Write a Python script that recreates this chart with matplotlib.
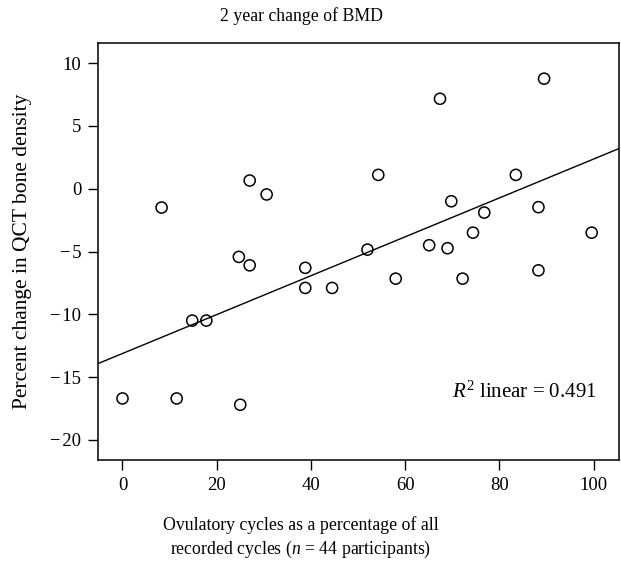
import numpy as np
import matplotlib
matplotlib.use('Agg')
import matplotlib.pyplot as plt
import matplotlib.ticker as mticker

# data (x: % ovulatory cycles, y: % change in QCT BMD)
ovulatory_pct = [0.0, 8.3, 11.5, 14.8, 17.8, 24.7, 25.0, 27.0, 27.0, 30.6,
                 38.8, 38.8, 44.5, 52.0, 54.3, 58.0, 65.1, 67.4, 69.0, 69.8,
                 72.2, 74.4, 76.8, 83.5, 88.3, 88.3, 89.5, 99.6]
bmd_change = [-16.7, -1.5, -16.7, -10.5, -10.5, -5.43, -17.2, 0.65, -6.1, -0.46,
              -6.3, -7.9, -7.9, -4.85, 1.1, -7.16, -4.5, 7.16, -4.74, -1.0,
              -7.16, -3.5, -1.9, 1.1, -1.47, -6.5, 8.76, -3.5]

# fitted line shown in the figure
fit_intercept = -13.12
fit_slope = 0.1548
r2_text = r'$R^2$ linear = 0.491'

xticks = [0, 20, 40, 60, 80, 100]
yticks = [10, 5, 0, -5, -10, -15, -20]

plt.rcParams['font.family'] = ['Liberation Serif', 'DejaVu Serif']
plt.rcParams['mathtext.fontset'] = 'custom'
plt.rcParams['mathtext.it'] = 'Liberation Serif:italic'
plt.rcParams['mathtext.rm'] = 'Liberation Serif'

fig = plt.figure(figsize=(6.21, 5.68), dpi=100)
W, H = 621, 568
ax = fig.add_axes([98 / W, 1 - 460 / H, (619 - 98) / W, (460 - 43) / H])

xlim = (-5.2, 105.4)
ax.set_xlim(xlim)
ax.set_ylim(-21.6, 11.6)

ax.scatter(ovulatory_pct, bmd_change, s=64, facecolors='none',
           edgecolors='black', linewidths=1.1, zorder=3)

xl = np.array(xlim)
ax.plot(xl, fit_intercept + fit_slope * xl, color='black', lw=1.0, zorder=2)

def fmt(v, pos):
    v = int(round(v))
    return '\u2212\u200a%d' % -v if v < 0 else '%d' % v

ax.set_xticks(xticks)
ax.set_yticks(yticks)
ax.yaxis.set_major_formatter(mticker.FuncFormatter(fmt))
ax.tick_params(direction='out', length=7, width=1, labelsize=13.5, pad=5,
               colors='black')
for s in ax.spines.values():
    s.set_linewidth(1.1)

ax.text(597 / W, 1 - 392 / H, r2_text, transform=fig.transFigure, ha='right',
        va='center', fontsize=15)

fig.text(301 / W, 1 - 16 / H, '2 year change of BMD', ha='center',
         va='center', fontsize=12.8)
fig.text(301 / W, 1 - 525 / H, 'Ovulatory cycles as a percentage of all',
         ha='center', va='center', fontsize=12.8)
fig.text(301 / W, 1 - 549 / H, r'recorded cycles ($n$ = 44 participants)',
         ha='center', va='center', fontsize=12.8)
fig.text(23 / W, 1 - 251 / H, 'Percent change in QCT bone density',
         ha='center', va='center', rotation=90, fontsize=15.5)

fig.savefig('out.png', dpi=100)
